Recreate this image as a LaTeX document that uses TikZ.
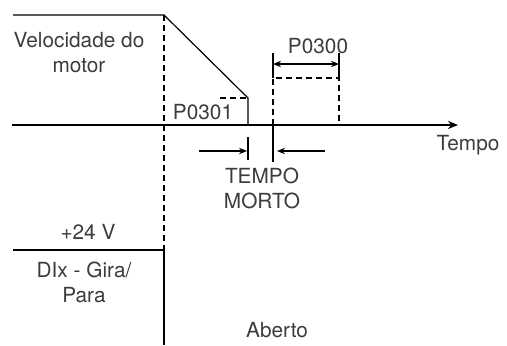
\documentclass[tikz,border=0pt]{standalone}
\usepackage{fontspec}
\setmainfont{TeX Gyre Heros}
\usepackage{xcolor}
\usepackage{tikz}
\usetikzlibrary{arrows.meta, calc}
\definecolor{txtG}{RGB}{60,60,60}
\tikzset{lbl/.style={font=\fontsize{10.4}{12.5}\selectfont, text=txtG, align=center, inner sep=0pt},
  dashline/.style={line width=0.8pt, dash pattern=on 3pt off 2pt},
  dimarrow/.style={-{Stealth[length=4pt, width=3.2pt]}, line width=0.7pt}}

\begin{document}
\begin{tikzpicture}[x=0.5pt, y=-0.5pt]
\useasboundingbox (0,0) rectangle (507,345);
% key points of the speed curve
\coordinate (Vtl) at (13,15);
\coordinate (Vtop) at (164,15);
\coordinate (Vend) at (248,98);
\coordinate (Vbase) at (248,125);
\coordinate (Pstart) at (220,98);
% time axis
\coordinate (Tleft) at (12,125);
\coordinate (Tright) at (458,125);
\draw[line width=1pt, -{Stealth[length=5pt, width=4pt]}] (Tleft) -- (Tright);
% motor speed: flat, ramp down, drop
\draw[line width=0.6pt] (Vtl) -- (Vtop) -- (Vend) -- (Vbase);
\draw[dashline] (Pstart) -- (Vend);
% dashed pulse: restart window
\coordinate (Ra) at (273,125);
\coordinate (Rb) at (273,78);
\coordinate (Rc) at (339,78);
\coordinate (Rd) at (339,125);
\draw[dashline] (Ra) -- (Rb) -- (Rc) -- (Rd);
% P0300 dimension
\coordinate (Ta) at (273,53);
\coordinate (Tb) at (339,53);
\draw[line width=0.6pt] (Ta) -- (Rb) (Tb) -- (Rc);
\draw[{Stealth[length=4pt, width=3.2pt]}-{Stealth[length=4pt, width=3.2pt]}, line width=0.7pt] (273,64) -- (339,64);
% dead time markers below the axis
\coordinate (Ma) at (248,137);
\coordinate (Mb) at (248,160);
\coordinate (Mc) at (273,162);
\draw[line width=0.6pt] (Ma) -- (Mb) (Ra) -- (Mc);
\coordinate (La) at (199,151);
\coordinate (Lb) at (247,151);
\coordinate (Ka) at (325,151);
\coordinate (Kb) at (277,151);
\draw[dimarrow] (La) -- (Lb);
\draw[dimarrow] (Ka) -- (Kb);
% digital input lane
\coordinate (Dtop) at (164,250);
\coordinate (Dleft) at (13,250);
\coordinate (Dbot) at (164,345);
\draw[dashline] (Vtop) -- (Dtop);
\draw[line width=0.6pt] (Dleft) -- (Dtop) -- (Dbot);
% labels
\node[lbl] (vel) at (79,53) {Velocidade do\\ motor};
\node[lbl] (p301) at (203,112) {P0301};
\node[lbl] (p300) at (318,46) {P0300};
\node[lbl] (tempo) at (468,145) {Tempo};
\node[lbl] (morto) at (262,188) {TEMPO\\ MORTO};
\node[lbl] (v24) at (88,232) {+24 V};
\node[lbl] (dix) at (84,282) {DIx - Gira/\\ Para};
\node[lbl] (aberto) at (277,330) {Aberto};
\end{tikzpicture}
\end{document}
